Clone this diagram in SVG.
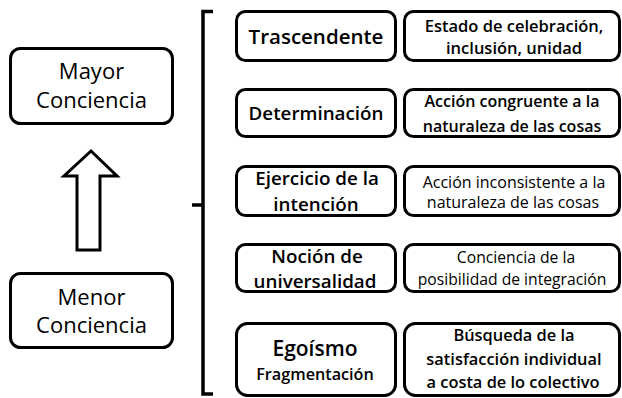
<svg xmlns="http://www.w3.org/2000/svg" width="622" height="398" viewBox="0 0 622 398">
<style>
.box{fill:#fff;stroke:#000;stroke-width:3}
.t{font-family:"Open Sans","Noto Sans",sans-serif;fill:#000;text-anchor:middle}
.b{font-weight:600}
.r{font-weight:normal}
.ln{fill:none;stroke:#000;stroke-width:3.5}
</style>
<rect width="622" height="398" fill="#fff"/>
<g id="mayor">
<rect class="box" x="10.5" y="48.5" width="162" height="75" rx="10"/>
<text class="t r" x="91.5" y="79" font-size="22">Mayor</text>
<text class="t r" x="91.5" y="108" font-size="22">Conciencia</text>
</g>
<g id="menor">
<rect class="box" x="10.5" y="273.5" width="162" height="74" rx="10"/>
<text class="t r" x="91.5" y="305" font-size="22">Menor</text>
<text class="t r" x="91.5" y="333" font-size="22">Conciencia</text>
</g>
<g id="connectors">
<polygon class="box" points="91,151 64,176 77,176 77,250 100,250 100,176 117,176"/>
<path class="ln" d="M213,11.5 H203 V394 H213 M203,205 H192"/>
</g>
<g id="trascendente">
<rect class="box" x="236.5" y="11.5" width="159" height="49" rx="9"/>
<text class="t b" x="316" y="44" font-size="20.5">Trascendente</text>
</g>
<g id="estado">
<rect class="box" x="404.5" y="11.5" width="215" height="49" rx="9"/>
<text class="t b" x="514" y="32" font-size="16.5">Estado de celebración,</text>
<text class="t b" x="514" y="53.5" font-size="16.5">inclusión, unidad</text>
</g>
<g id="determinacion">
<rect class="box" x="236.5" y="89.5" width="159" height="47" rx="9"/>
<text class="t b" x="316" y="120" font-size="18.8">Determinación</text>
</g>
<g id="accion-congruente">
<rect class="box" x="404.5" y="89.5" width="215" height="47" rx="9"/>
<text class="t b" x="512" y="107" font-size="16">Acción congruente a la</text>
<text class="t b" x="512" y="132" font-size="16">naturaleza de las cosas</text>
</g>
<g id="ejercicio">
<rect class="box" x="236.5" y="166.5" width="159" height="49" rx="9"/>
<text class="t b" x="317" y="185" font-size="18.8">Ejercicio de la</text>
<text class="t b" x="316" y="211" font-size="18.8">intención</text>
</g>
<g id="accion-inconsistente">
<rect class="box" x="404.5" y="166.5" width="215" height="49" rx="9"/>
<text class="t r" x="514" y="188" font-size="16">Acción inconsistente a la</text>
<text class="t r" x="513" y="208" font-size="16">naturaleza de las cosas</text>
</g>
<g id="nocion">
<rect class="box" x="236.5" y="244.5" width="159" height="47" rx="9"/>
<text class="t b" x="317" y="263" font-size="18.8">Noción de</text>
<text class="t b" x="315" y="288" font-size="18.8">universalidad</text>
</g>
<g id="conciencia-integracion">
<rect class="box" x="404.5" y="244.5" width="215" height="47" rx="9"/>
<text class="t r" x="516" y="263" font-size="15.7">Conciencia de la</text>
<text class="t r" x="512" y="285" font-size="15.7">posibilidad de integración</text>
</g>
<g id="egoismo">
<rect class="box" x="236.5" y="323.5" width="159" height="72" rx="11"/>
<text class="t b" x="315" y="356" font-size="21">Egoísmo</text>
<text class="t b" x="315" y="380" font-size="16.2">Fragmentación</text>
</g>
<g id="busqueda">
<rect class="box" x="404.5" y="323.5" width="215" height="72" rx="11"/>
<text class="t b" x="514" y="341" font-size="16.4">Búsqueda de la</text>
<text class="t b" x="514" y="365" font-size="16.4">satisfacción individual</text>
<text class="t b" x="513" y="388" font-size="16.4">a costa de lo colectivo</text>
</g>
</svg>
